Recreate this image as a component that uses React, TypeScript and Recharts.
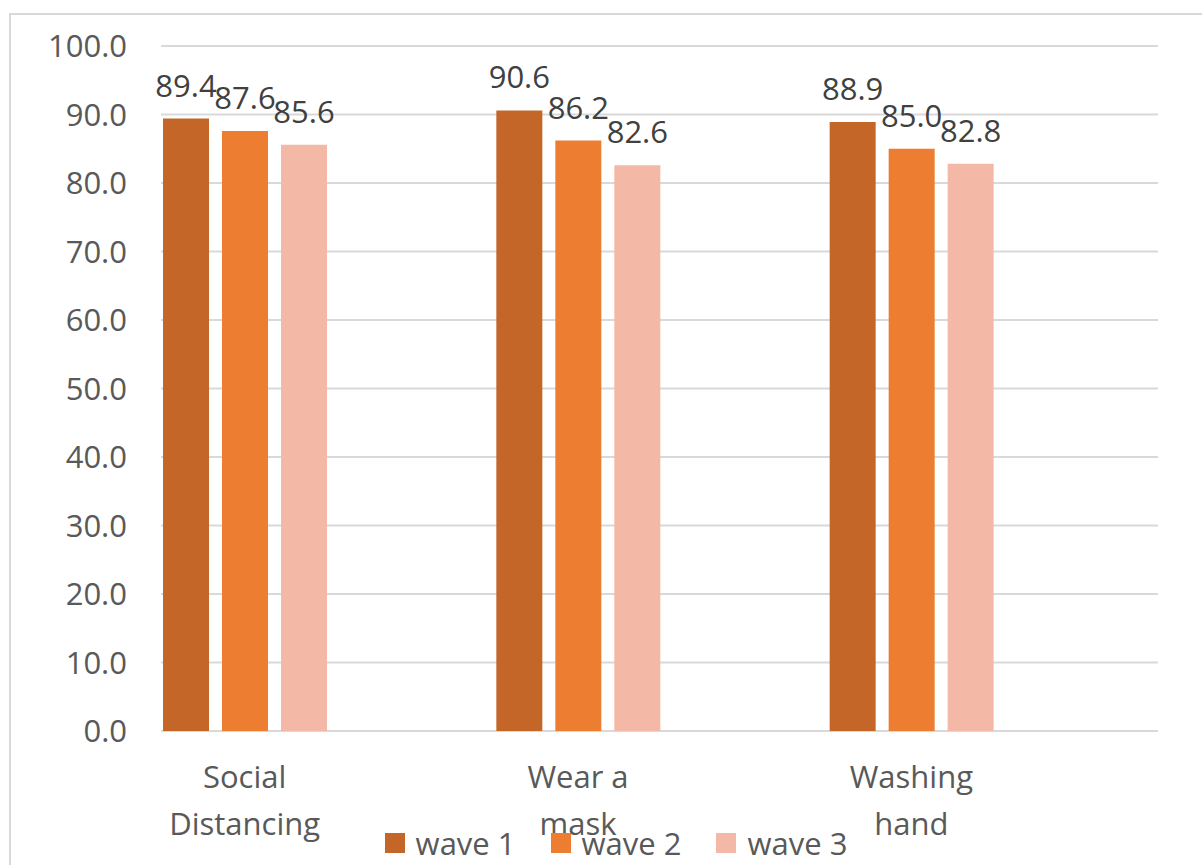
import * as React from "react";
import {
  Bar,
  BarChart,
  CartesianGrid,
  LabelList,
  Legend,
  XAxis,
  YAxis,
} from "recharts";

const FONT = "'Open Sans', 'Noto Sans', sans-serif";
const FS = 31;

const categories = ["Social Distancing", "Wear a mask", "Washing hand"];
// how the category labels wrap under the axis
const tickLines = [
  ["Social", "Distancing"],
  ["Wear a", "mask"],
  ["Washing", "hand"],
];
const wave1 = [89.4, 90.6, 88.9];
const wave2 = [87.6, 86.2, 85.0];
const wave3 = [85.6, 82.6, 82.8];
const yTicks = [0, 10, 20, 30, 40, 50, 60, 70, 80, 90, 100];

const series = [
  { key: "wave1", name: "wave 1", color: "#C46628" },
  { key: "wave2", name: "wave 2", color: "#ED7D31" },
  { key: "wave3", name: "wave 3", color: "#F4B9A6" },
];

const data = categories.map((c, i) => ({
  category: c,
  wave1: wave1[i],
  wave2: wave2[i],
  wave3: wave3[i],
}));

function CategoryTick(props: any) {
  const { x, y, payload } = props;
  const idx = categories.indexOf(payload.value);
  const lines = idx >= 0 ? tickLines[idx] : [String(payload.value)];
  return (
    <text
      x={x}
      y={y}
      textAnchor="middle"
      fill="#595959"
      style={{ fontSize: FS, fontFamily: FONT }}
    >
      {lines.map((l, i) => (
        <tspan key={i} x={x} dy={i === 0 ? 22 : 47}>
          {l}
        </tspan>
      ))}
    </text>
  );
}

function renderLegend(props: any) {
  const items = props.payload ?? [];
  return (
    <div
      style={{
        display: "flex",
        justifyContent: "center",
        alignItems: "center",
        gap: 35,
        height: 40,
        marginLeft: 74,
        fontFamily: FONT,
        fontSize: FS,
        color: "#595959",
      }}
    >
      {items.map((p: any) => (
        <div key={p.value} style={{ display: "flex", alignItems: "center" }}>
          <span
            style={{
              display: "inline-block",
              width: 20,
              height: 20,
              background: p.color,
              marginRight: 11,
            }}
          />
          {p.value}
        </div>
      ))}
    </div>
  );
}

export default function App() {
  return (
    <div
      style={{
        position: "fixed",
        left: 0,
        top: 0,
        width: 1202,
        height: 865,
        overflow: "hidden",
        background: "#fff",
      }}
    >
      <div
        style={{
          position: "absolute",
          left: 9,
          top: 13,
          width: 1300,
          height: 1000,
          borderLeft: "2px solid #D9D9D9",
          borderTop: "2px solid #D9D9D9",
        }}
      />
      <div style={{ position: "absolute", left: 0, top: 0 }}>
        <BarChart
          width={1202}
          height={865}
          data={data}
          margin={{ top: 46, right: 44, left: 0, bottom: 34 }}
          barSize={46}
          barGap={13}
        >
          <CartesianGrid vertical={false} stroke="#D9D9D9" strokeWidth={2} />
          <XAxis
            dataKey="category"
            height={60}
            padding={{ left: -83, right: 80 }}
            axisLine={false}
            tickLine={false}
            tickSize={0}
            tickMargin={35}
            interval={0}
            tick={<CategoryTick />}
          />
          <YAxis
            domain={[0, 100]}
            ticks={yTicks}
            width={161}
            axisLine={false}
            tickLine={false}
            tickSize={0}
            tickMargin={34}
            tickFormatter={(v: number) => v.toFixed(1)}
            tick={{ fill: "#595959", fontSize: FS, fontFamily: FONT }}
          />
          <Legend
            verticalAlign="bottom"
            content={renderLegend}
            wrapperStyle={{ bottom: 2 }}
          />
          {series.map((s) => (
            <Bar
              key={s.key}
              dataKey={s.key}
              name={s.name}
              fill={s.color}
              isAnimationActive={false}
            >
              <LabelList
                dataKey={s.key}
                position="top"
                offset={22}
                fill="#404040"
                fontSize={FS}
                fontFamily={FONT}
                formatter={(v: any) => Number(v).toFixed(1)}
              />
            </Bar>
          ))}
        </BarChart>
      </div>
    </div>
  );
}
